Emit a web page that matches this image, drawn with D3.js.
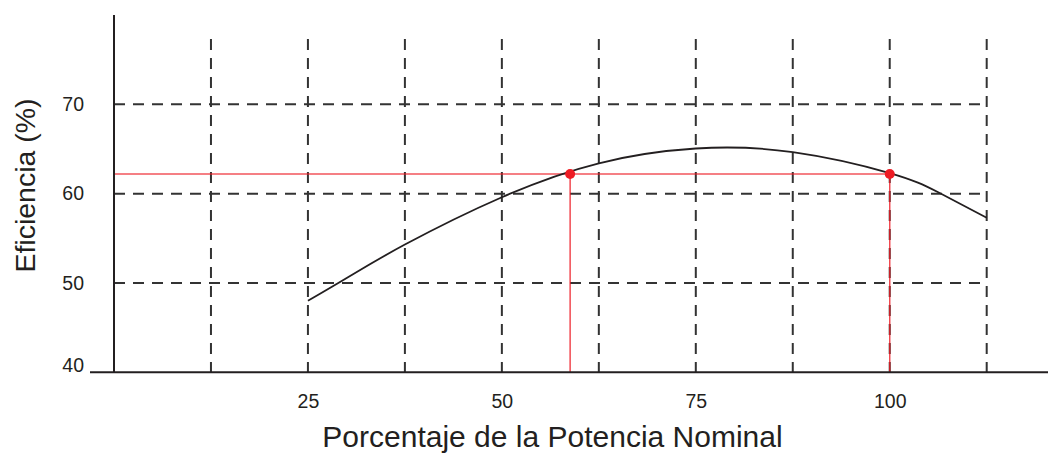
<!DOCTYPE html>
<html>
<head>
<meta charset="utf-8">
<script src="https://cdn.jsdelivr.net/npm/d3@7"></script>
<style>
  html, body { margin: 0; padding: 0; background: #fff; }
  svg { display: block; }
  text { font-family: "Liberation Sans", Arial, Helvetica, sans-serif; fill: #231f20; }
</style>
</head>
<body>
<svg id="chart" width="1050" height="453"></svg>
<script>
// Efficiency curve (% of nominal power vs. efficiency %)
const potencia   = [25, 30, 37.5, 50, 62.5, 75, 87.5, 100, 106.25, 112.5];
const eficiencia = [48.0, 50.55, 54.3, 59.6, 63.4, 65.05, 64.65, 62.3, 60.15, 57.3];

// Points where the curve meets the reference efficiency
const puntosPotencia   = [58.8, 100];
const puntosEficiencia = [62.2, 62.2];

// Axis ticks and grid
const xTicks = [25, 50, 75, 100];
const xGrid  = [12.5, 25, 37.5, 50, 62.5, 75, 87.5, 100, 112.5];
const yTicks = [40, 50, 60, 70];
const yGrid  = [50, 60, 70];

const xTitle = "Porcentaje de la Potencia Nominal";
const yTitle = "Eficiencia (%)";

const svg = d3.select("#chart");

const x = d3.scaleLinear().domain([0, 112.5]).range([114, 986.7]);
const y = d3.scaleLinear().domain([40, 70]).range([372.3, 104.3]);

const ink = "#231f20";
const dash = "11,8";
const red = "#ee1c24";
const gridTop = 39;

// dashed grid
svg.append("g").selectAll("line").data(yGrid).join("line")
  .attr("x1", x(0)).attr("x2", x(112.5))
  .attr("y1", d => y(d)).attr("y2", d => y(d))
  .attr("stroke", "#333").attr("stroke-width", 2).attr("stroke-dasharray", dash);

svg.append("g").selectAll("line").data(xGrid).join("line")
  .attr("x1", d => x(d)).attr("x2", d => x(d))
  .attr("y1", gridTop).attr("y2", y(40))
  .attr("stroke", "#333").attr("stroke-width", 2).attr("stroke-dasharray", dash);

// red reference lines
svg.append("line")
  .attr("x1", x(0)).attr("x2", x(puntosPotencia[1]))
  .attr("y1", y(puntosEficiencia[0])).attr("y2", y(puntosEficiencia[0]))
  .attr("stroke", red).attr("stroke-opacity", 0.75).attr("stroke-width", 1.5);

svg.append("g").selectAll("line").data(puntosPotencia).join("line")
  .attr("x1", d => x(d)).attr("x2", d => x(d))
  .attr("y1", (d, i) => y(puntosEficiencia[i])).attr("y2", y(40))
  .attr("stroke", red).attr("stroke-opacity", 0.8).attr("stroke-width", 1.5);

// efficiency curve
const curveData = potencia.map((p, i) => [p, eficiencia[i]]);
svg.append("path")
  .datum(curveData)
  .attr("d", d3.line().x(d => x(d[0])).y(d => y(d[1])).curve(d3.curveNatural))
  .attr("fill", "none").attr("stroke", ink).attr("stroke-width", 1.8);

// highlighted points
svg.append("g").selectAll("circle").data(puntosPotencia).join("circle")
  .attr("cx", d => x(d)).attr("cy", (d, i) => y(puntosEficiencia[i]))
  .attr("r", 5).attr("fill", red);

// axes lines
svg.append("line").attr("x1", x(0)).attr("x2", x(0))
  .attr("y1", 15).attr("y2", y(40))
  .attr("stroke", ink).attr("stroke-width", 2);
svg.append("line").attr("x1", 90).attr("x2", 1048)
  .attr("y1", y(40)).attr("y2", y(40))
  .attr("stroke", ink).attr("stroke-width", 2);

// tick labels
const xAxis = svg.append("g")
  .attr("transform", `translate(0,${y(40)})`)
  .call(d3.axisBottom(x).tickValues(xTicks).tickSize(0).tickPadding(22));
xAxis.select(".domain").remove();
xAxis.selectAll("text").attr("font-size", 19.5).attr("fill", ink)
  .style("font-family", '"Liberation Sans", Arial, Helvetica, sans-serif');

const yAxis = svg.append("g")
  .attr("transform", `translate(${x(0)},0)`)
  .call(d3.axisLeft(y).tickValues(yTicks).tickSize(0).tickPadding(30));
yAxis.select(".domain").remove();
yAxis.selectAll("text").attr("font-size", 19.5).attr("fill", ink)
  .style("font-family", '"Liberation Sans", Arial, Helvetica, sans-serif')
  .attr("dy", d => d === 40 ? "-0.02em" : "0.32em");

// axis titles
svg.append("text")
  .attr("x", 552.5).attr("y", 447)
  .attr("text-anchor", "middle").attr("font-size", 30)
  .text(xTitle);

svg.append("text")
  .attr("transform", "translate(35,185.5) rotate(-90)")
  .attr("text-anchor", "middle").attr("font-size", 28.5)
  .text(yTitle);
</script>
</body>
</html>
